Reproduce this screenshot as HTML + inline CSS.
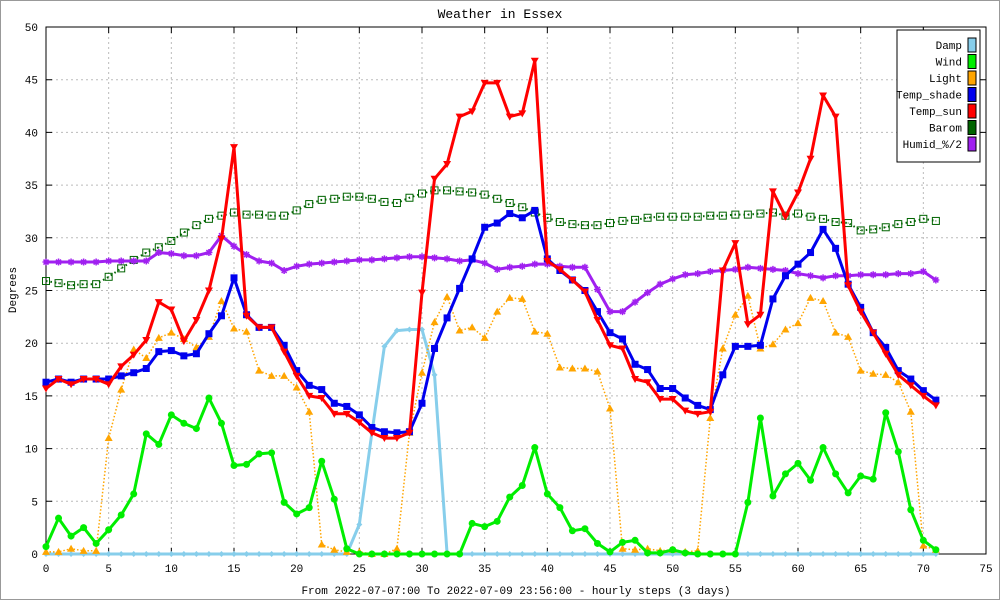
<!DOCTYPE html>
<html><head><meta charset="utf-8"><style>
html,body{margin:0;padding:0;background:#fff}
svg{display:block}
text{font-family:"Liberation Mono","DejaVu Sans Mono",monospace;font-size:11px;fill:#000}
</style></head><body>
<svg id="chart" width="1000" height="600" viewBox="0 0 1000 600">
<rect x="0.5" y="0.5" width="999" height="599" fill="#fff" stroke="#999"/>
<text x="500" y="18" text-anchor="middle" style="font-size:13px">Weather in Essex</text>
<text transform="translate(16,290) rotate(-90)" text-anchor="middle">Degrees</text>
<text x="516" y="594" text-anchor="middle">From 2022-07-07:00 To 2022-07-09 23:56:00 - hourly steps (3 days)</text>
<g id="grid"></g>
<g id="axes"></g>
<g id="series"></g>
<g id="legend"></g>
</svg>
<script>
const xTicks=[0,5,10,15,20,25,30,35,40,45,50,55,60,65,70,75];
const yTicks=[0,5,10,15,20,25,30,35,40,45,50];
const damp=[0,0,0,0,0,0,0,0,0,0,0,0,0,0,0,0,0,0,0,0,0,0,0,0,0,2.8,11.5,19.7,21.2,21.3,21.3,17.0,0,0,0,0,0,0,0,0,0,0,0,0,0,0,0,0,0,0,0,0,0,0,0,0,0,0,0,0,0,0,0,0,0,0,0,0,0,0,0,0];
const wind=[0.7,3.4,1.7,2.5,1.0,2.3,3.7,5.7,11.4,10.4,13.2,12.4,11.9,14.8,12.4,8.4,8.5,9.5,9.6,4.9,3.8,4.4,8.8,5.2,0.5,0,0,0,0,0,0,0,0,0,2.9,2.6,3.1,5.4,6.5,10.1,5.7,4.4,2.2,2.4,1.0,0.2,1.1,1.3,0.1,0.1,0.4,0.1,0,0,0,0,4.9,12.9,5.5,7.6,8.6,7.0,10.1,7.6,5.8,7.4,7.1,13.4,9.7,4.2,1.3,0.4];
const light=[0.2,0.2,0.5,0.3,0.3,11.0,15.6,19.4,18.6,20.5,21.0,20.4,19.6,20.6,24.0,21.4,21.1,17.4,16.9,16.9,15.8,13.5,0.9,0.4,0.2,0.2,0,0,0.5,11.5,17.2,22.0,24.4,21.2,21.5,20.5,23.0,24.3,24.2,21.1,20.9,17.7,17.6,17.6,17.3,13.8,0.5,0.4,0.5,0.3,0.4,0.2,0.3,12.9,19.5,22.7,24.5,19.5,19.9,21.3,21.9,24.3,24.0,21.0,20.6,17.4,17.1,17.0,16.3,13.5,0.8,0.4];
const tempShade=[16.3,16.6,16.3,16.6,16.6,16.6,16.9,17.2,17.6,19.2,19.3,18.8,19.0,20.9,22.6,26.2,22.7,21.5,21.5,19.8,17.4,16.0,15.6,14.3,14.0,13.2,12.0,11.6,11.5,11.6,14.3,19.5,22.4,25.2,28.0,31.0,31.4,32.3,31.9,32.6,28.0,26.9,26.0,25.0,23.0,21.0,20.4,18.0,17.5,15.7,15.7,14.8,14.1,13.7,17.0,19.7,19.7,19.8,24.2,26.4,27.5,28.6,30.8,29.0,25.6,23.4,21.0,19.6,17.4,16.6,15.5,14.6];
const tempSun=[15.7,16.6,16.1,16.6,16.6,16.1,17.8,18.9,20.3,23.9,23.2,20.2,22.2,25.0,29.9,38.6,22.6,21.5,21.5,19.2,16.9,15.0,14.8,13.3,13.3,12.5,11.5,11.0,11.0,11.5,24.8,35.6,37.0,41.5,42.0,44.7,44.7,41.5,41.8,46.8,27.8,27.0,26.0,24.9,22.2,19.8,19.5,16.6,16.3,14.7,14.7,13.6,13.3,13.5,26.9,29.5,21.8,22.7,34.4,32.0,34.3,37.5,43.5,41.5,25.5,23.0,21.0,19.0,17.0,16.0,15.0,14.1];
const barom=[25.9,25.7,25.5,25.6,25.6,26.3,27.1,27.9,28.6,29.1,29.7,30.5,31.2,31.8,32.1,32.4,32.2,32.2,32.1,32.1,32.6,33.2,33.6,33.7,33.9,33.9,33.7,33.4,33.3,33.8,34.2,34.5,34.5,34.4,34.3,34.1,33.7,33.3,32.9,32.4,31.9,31.5,31.3,31.2,31.2,31.4,31.6,31.7,31.9,32.0,32.0,32.0,32.0,32.1,32.1,32.2,32.2,32.3,32.4,32.1,32.3,32.0,31.8,31.5,31.4,30.7,30.8,31.0,31.3,31.5,31.8,31.6];
const humid=[27.7,27.7,27.7,27.7,27.7,27.8,27.8,27.8,27.8,28.6,28.5,28.3,28.3,28.6,30.2,29.2,28.4,27.8,27.6,26.9,27.3,27.5,27.6,27.7,27.8,27.9,27.9,28.0,28.1,28.2,28.2,28.1,28.0,27.8,27.9,27.6,27.0,27.2,27.3,27.5,27.5,27.3,27.2,27.2,25.1,23.0,23.0,23.9,24.8,25.6,26.1,26.5,26.6,26.8,26.9,27.0,27.2,27.1,27.0,26.9,26.6,26.4,26.2,26.4,26.4,26.5,26.5,26.5,26.6,26.6,26.8,26.0];

const L=46,R=986,T=27,B=554;
const X=v=>L+(v-0)/(75-0)*(R-L);
const Y=v=>B-(v-0)/(50-0)*(B-T);
const NS='http://www.w3.org/2000/svg';
function mk(tag,attrs,parent){const e=document.createElementNS(NS,tag);for(const k in attrs)e.setAttribute(k,attrs[k]);parent.appendChild(e);return e;}
const grid=document.getElementById('grid'),axes=document.getElementById('axes'),ser=document.getElementById('series'),leg=document.getElementById('legend');

xTicks.forEach(t=>{
  if(t>0&&t<75){const g=mk('line',{x1:X(t),x2:X(t),y1:T,y2:B,stroke:'#bbb','stroke-dasharray':'2,3'},grid);
  
  }
  const tk=mk('path',{d:`M${X(t)},${B}v-6M${X(t)},${T}v6`,stroke:'#000'},axes);
  
  
  const tx=mk('text',{x:X(t),y:B+18,'text-anchor':'middle'},axes);tx.textContent=t;
  
  
});
yTicks.forEach(t=>{
  if(t>0&&t<50){const g=mk('line',{x1:L,x2:R,y1:Y(t),y2:Y(t),stroke:'#bbb','stroke-dasharray':'2,3'},grid);
  
  }
  const tk=mk('path',{d:`M${L},${Y(t)}h6M${R},${Y(t)}h-6`,stroke:'#000'},axes);
  
  
  const tx=mk('text',{x:L-8,y:Y(t)+4,'text-anchor':'end'},axes);tx.textContent=t;
  
  
});
const frame=mk('rect',{x:L,y:T,width:R-L,height:B-T,fill:'none',stroke:'#000'},axes);



function marker(kind,x,y,c,g){
  let e;
  if(kind==='circle')e=mk('circle',{cx:x,cy:y,r:3.5,fill:c},g);
  else if(kind==='up')e=mk('path',{d:`M${x},${y-4}l4,7h-8z`,fill:c},g);
  else if(kind==='down')e=mk('path',{d:`M${x},${y+4}l4,-7h-8z`,fill:c},g);
  else if(kind==='square')e=mk('rect',{x:x-3.5,y:y-3.5,width:7,height:7,fill:c},g);
  else if(kind==='osq'){e=mk('rect',{x:x-3.5,y:y-3.5,width:7,height:7,fill:'none',stroke:c},g);mk('rect',{x:x-0.5,y:y-0.5,width:1,height:1,fill:c},g);}
  else if(kind==='star')e=mk('path',{d:`M${x-3.5},${y}h7M${x},${y-3.5}v7M${x-2.5},${y-2.5}l5,5M${x+2.5},${y-2.5}l-5,5`,stroke:c,'stroke-width':1.5},g);
  else e=mk('path',{d:`M${x},${y-3}l3,3l-3,3l-3,-3z`,fill:c},g);
  
  
}
const seriesList=[
 {name:'Barom',data:barom,color:'#006400',w:2,dash:'1.5,3',mk:'osq'},
 {name:'Humid_%/2',data:humid,color:'#a020f0',w:3,dash:'',mk:'star'},
 {name:'Damp',data:damp,color:'#87ceeb',w:3,dash:'',mk:'diamond'},
 {name:'Light',data:light,color:'#ffa500',w:1.5,dash:'1.5,2',mk:'up'},
 {name:'Wind',data:wind,color:'#00ee00',w:3,dash:'',mk:'circle'},
 {name:'Temp_shade',data:tempShade,color:'#0000ee',w:3,dash:'',mk:'square'},
 {name:'Temp_sun',data:tempSun,color:'#ff0000',w:3,dash:'',mk:'down'}
];
seriesList.forEach(s=>{
  const g=mk('g',{},ser);
  
  
  const d=s.data.map((v,i)=>(i?'L':'M')+X(i).toFixed(1)+','+Y(v).toFixed(1)).join('');
  const p=mk('path',{d:d,fill:'none',stroke:s.color,'stroke-width':s.w,'stroke-dasharray':s.dash,'stroke-linejoin':'round'},g);
  
  
  s.data.forEach((v,i)=>marker(s.mk,X(i),Y(v),s.color,g));
});
// legend
const legOrder=['Damp','Wind','Light','Temp_shade','Temp_sun','Barom','Humid_%/2'];
const legColors=['#87ceeb','#00ee00','#ffa500','#0000ee','#ff0000','#006400','#a020f0'];
const lb=mk('rect',{x:897,y:30,width:83,height:132,fill:'#fff',stroke:'#000'},leg);


legOrder.forEach((n,i)=>{
  const y=45+i*16.5;
  const t=mk('text',{x:962,y:y+4,'text-anchor':'end'},leg);t.textContent=n;
  
  
  const r=mk('rect',{x:968,y:y-7,width:8,height:14,fill:legColors[i],stroke:'#000'},leg);
  
  
});
</script>
</body></html>
